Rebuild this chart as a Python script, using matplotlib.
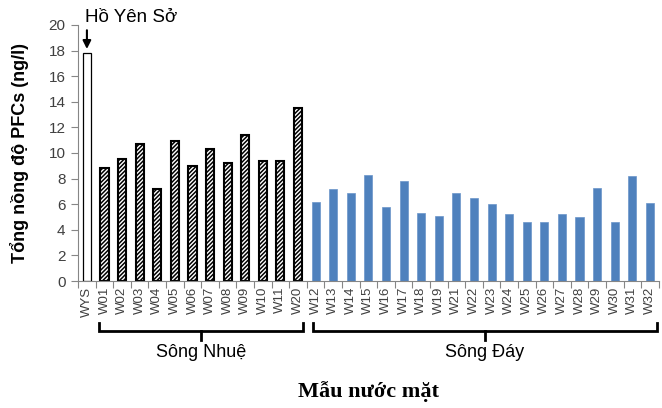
import matplotlib
matplotlib.use("Agg")
import matplotlib.pyplot as plt
import numpy as np
from matplotlib.ticker import FixedLocator

plt.rcParams['font.family'] = ['Liberation Sans', 'DejaVu Sans']
plt.rcParams['hatch.linewidth'] = 1.1

lake_label = ["WYS"]
lake_values = [17.8]

nhue_labels = ["W01", "W02", "W03", "W04", "W05", "W06", "W07", "W08", "W09", "W10", "W11", "W20"]
nhue_values = [8.8, 9.5, 10.7, 7.2, 10.9, 9.0, 10.3, 9.2, 11.4, 9.4, 9.4, 13.5]

day_labels = ["W12", "W13", "W14", "W15", "W16", "W17", "W18", "W19", "W21", "W22",
              "W23", "W24", "W25", "W26", "W27", "W28", "W29", "W30", "W31", "W32"]
day_values = [6.2, 7.2, 6.9, 8.3, 5.8, 7.8, 5.3, 5.1, 6.9, 6.5,
              6.0, 5.2, 4.6, 4.6, 5.2, 5.0, 7.3, 4.6, 8.2, 6.1]

group_names = ["Sông Nhuệ", "Sông Đáy"]
lake_name = "Hồ Yên Sở"
ylabel = "Tổng nồng độ PFCs (ng/l)"
xlabel = "Mẫu nước mặt"

labels = lake_label + nhue_labels + day_labels
n = len(labels)
x_lake = np.arange(0, 1)
x_nhue = np.arange(1, 1 + len(nhue_labels))
x_day = np.arange(1 + len(nhue_labels), n)

fig = plt.figure(figsize=(6.62, 4.08), dpi=100)
ax = fig.add_axes([0.118, 0.311, 0.877, 0.628])

w = 0.46
ax.bar(x_lake, lake_values, width=w, color='white', edgecolor='black', linewidth=0.9)
ax.bar(x_nhue, nhue_values, width=w, color='white', edgecolor='black', linewidth=1.5,
       hatch='////////')
ax.bar(x_day, day_values, width=w, color='#4F81BD', edgecolor='#6a95c9', linewidth=0.5)

ax.set_xlim(-0.5, n - 0.5)
ax.set_ylim(0, 20)
ax.set_yticks(np.arange(0, 21, 2))
ax.set_xticks(np.arange(n))
ax.set_xticklabels(labels, rotation=90, fontsize=9.5, color='#404040')
ax.xaxis.set_minor_locator(FixedLocator(np.arange(-0.5, n, 1.0)))
ax.tick_params(axis='x', which='major', length=0, pad=4)
ax.tick_params(axis='x', which='minor', length=5, color='#868686', width=0.8)
ax.tick_params(axis='y', length=5, color='#868686', width=0.8, labelsize=11,
               labelcolor='#404040', pad=4)
for s in ['top', 'right']:
    ax.spines[s].set_visible(False)
for s in ['left', 'bottom']:
    ax.spines[s].set_color('#868686')
    ax.spines[s].set_linewidth(0.8)

ax.set_ylabel(ylabel, fontsize=13, fontweight='bold', color='black')
ax.yaxis.set_label_coords(-0.085, 0.5)

# arrow and lake label
ax.annotate('', xy=(0, lake_values[0] + 0.1), xytext=(0, 19.8),
            arrowprops=dict(arrowstyle='-|>', color='black', lw=1.5, mutation_scale=12),
            annotation_clip=False)
ax.text(-0.12, 20.55, lake_name, fontsize=13.5, ha='left', va='center', clip_on=False)

# brackets
trans = ax.get_xaxis_transform()
brackets = [(0.7, 12.3), (12.85, 32.4)]
y_top, y_bar, y_tick = -0.164, -0.195, -0.23
for (x0, x1), name in zip(brackets, group_names):
    xc = (x0 + x1) / 2
    ax.plot([x0, x0, x1, x1], [y_top, y_bar, y_bar, y_top], color='black', lw=2,
            transform=trans, clip_on=False, solid_joinstyle='miter')
    ax.plot([xc, xc], [y_bar, y_tick], color='black', lw=2, transform=trans, clip_on=False)
    ax.text(xc, -0.277, name, fontsize=13, ha='center', va='center', transform=trans)

fig.text(0.556, 0.04, xlabel, fontsize=16, fontweight='bold', ha='center', va='center',
         family=['Liberation Serif', 'DejaVu Serif'])

fig.savefig('out.png', dpi=100)
